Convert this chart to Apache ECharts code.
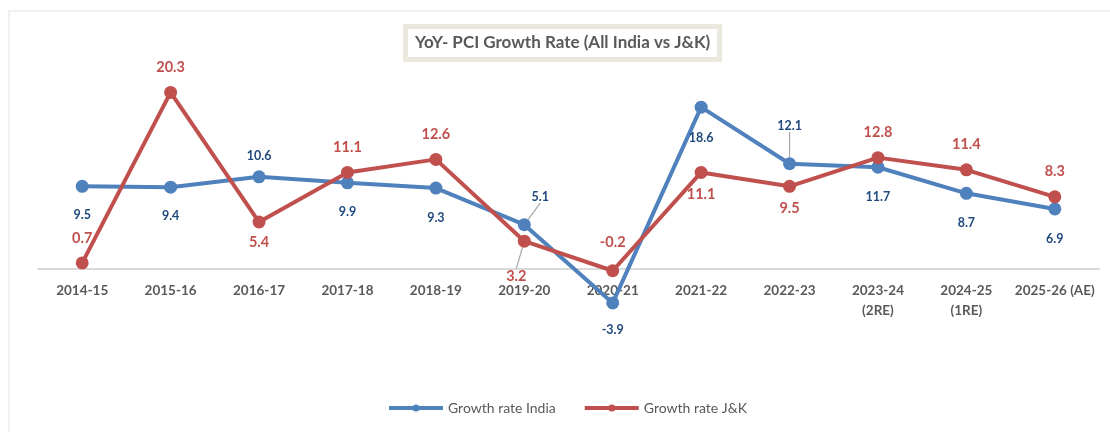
<!DOCTYPE html>
<html>
<head>
<meta charset="utf-8">
<script src="https://cdn.jsdelivr.net/npm/echarts@6/dist/echarts.min.js"></script>
<style>
  html, body { margin: 0; padding: 0; background: #ffffff; }
  #frame { position: absolute; left: 8px; top: 10px; width: 1300px; height: 600px; border: 2px solid #f0f0f0; box-sizing: border-box; }
  #chart { position: absolute; left: 0; top: 0; width: 1110px; height: 432px; }
</style>
</head>
<body>
<div id="frame"></div>
<div id="chart"></div>
<script>
// ---- data ----
const categories = ['2014-15', '2015-16', '2016-17', '2017-18', '2018-19', '2019-20', '2020-21', '2021-22', '2022-23', '2023-24\n(2RE)', '2024-25\n(1RE)', '2025-26 (AE)'];
const indiaGrowth = [9.5, 9.4, 10.6, 9.9, 9.3, 5.1, -3.9, 18.6, 12.1, 11.7, 8.7, 6.9];
const jkGrowth = [0.7, 20.3, 5.4, 11.1, 12.6, 3.2, -0.2, 11.1, 9.5, 12.8, 11.4, 8.3];
const seriesNames = ['Growth rate India', 'Growth rate J&K'];
const titleText = 'YoY- PCI Growth Rate (All India vs J&K)';

// ---- label placement (style only) ----
const indiaLabelPlace = [['bottom',16],['bottom',16],['top',8],['bottom',16],['bottom',17],['top',8],['bottom',14],['bottom',18],['top',8],['bottom',17],['bottom',17],['bottom',17]];
const jkLabelPlace = [['top',11],['top',11],['bottom',6],['top',11],['top',11],['bottom',6],['top',14],['bottom',8],['bottom',8],['top',11],['top',11],['top',11]];
const indiaShift = {5: [16, -7], 8: [0, -17]};
const jkShift = {5: [-8, 15]};

const FONT = 'Lato, "Open Sans", sans-serif';
const BLUE = '#4f81bd', RED = '#c0504d';

function buildData(values, place, shift) {
  return values.map((v, i) => ({
    value: v,
    label: { position: place[i][0], distance: place[i][1] },
    labelLine: { show: shift[i] !== undefined }
  }));
}

const chart = echarts.init(document.getElementById('chart'), null, { renderer: 'canvas' });
chart.setOption({
  backgroundColor: 'transparent',
  animation: false,
  title: {
    text: titleText,
    left: 405,
    top: 26,
    padding: [8, 10, 9, 10],
    borderWidth: 5,
    borderColor: '#ebe8de',
    backgroundColor: '#ffffff',
    textStyle: { fontFamily: FONT, fontSize: 17, fontWeight: 'bold', color: '#595959' }
  },
  legend: {
    left: 382,
    top: 396,
    itemWidth: 54,
    itemHeight: 9,
    itemGap: 27,
    lineStyle: { width: 4 },
    textStyle: { fontFamily: FONT, fontSize: 14, color: '#595959' },
    data: seriesNames
  },
  grid: { left: 38, right: 11, top: 77.6, bottom: 163, containLabel: false },
  xAxis: {
    type: 'category',
    data: categories,
    boundaryGap: true,
    axisLine: { onZero: false, lineStyle: { color: '#d9d9d9', width: 2 } },
    axisTick: { show: false },
    axisLabel: { fontFamily: FONT, fontSize: 13.5, fontWeight: 'bold', color: '#595959', margin: 12, lineHeight: 20, interval: 0 },
    splitLine: { show: false }
  },
  yAxis: {
    type: 'value',
    min: 0,
    max: 22,
    show: false,
    splitLine: { show: false }
  },
  series: [
    {
      name: seriesNames[0],
      type: 'line',
      clip: false,
      data: buildData(indiaGrowth, indiaLabelPlace, indiaShift),
      symbol: 'circle',
      symbolSize: 13,
      lineStyle: { color: BLUE, width: 4 },
      itemStyle: { color: BLUE },
      label: { show: true, fontFamily: FONT, fontSize: 12.5, fontWeight: 'bold', color: '#1f497d' },
      labelLine: { show: false, lineStyle: { color: '#a6a6a6', width: 1.2 } },
      labelLayout: (p) => { const s = indiaShift[p.dataIndex]; return s ? { dx: s[0], dy: s[1] } : {}; },
      z: 2
    },
    {
      name: seriesNames[1],
      type: 'line',
      clip: false,
      data: buildData(jkGrowth, jkLabelPlace, jkShift),
      symbol: 'circle',
      symbolSize: 13,
      lineStyle: { color: RED, width: 4 },
      itemStyle: { color: RED },
      label: { show: true, fontFamily: FONT, fontSize: 14.5, fontWeight: 'bold', color: RED },
      labelLine: { show: false, lineStyle: { color: '#a6a6a6', width: 1.2 } },
      labelLayout: (p) => { const s = jkShift[p.dataIndex]; return s ? { dx: s[0], dy: s[1] } : {}; },
      z: 3
    }
  ]
});
</script>
</body>
</html>
